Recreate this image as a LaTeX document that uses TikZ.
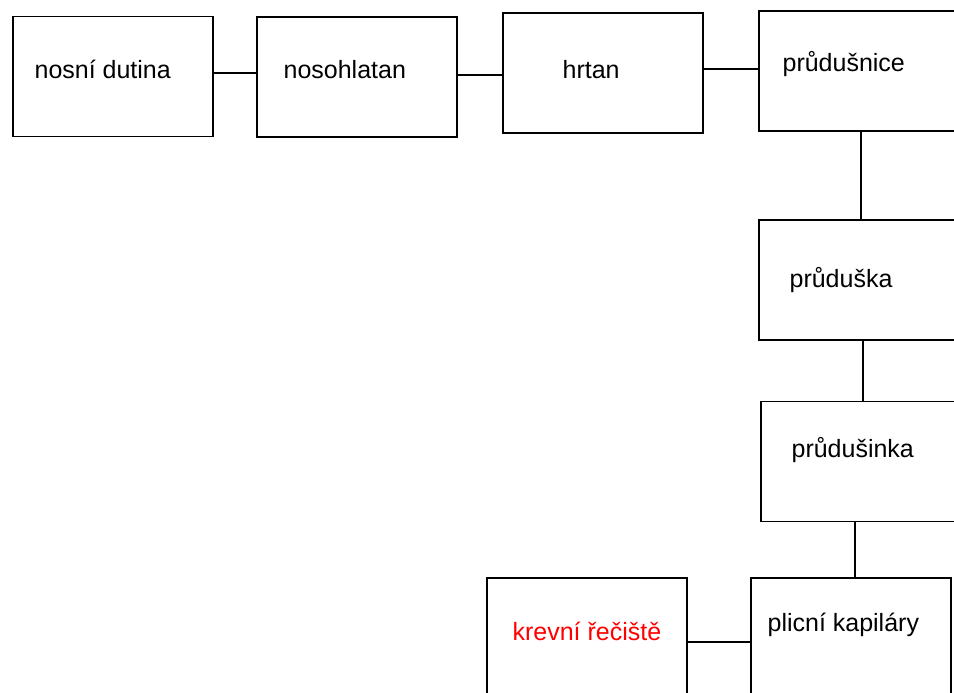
\documentclass[tikz,border=0pt]{standalone}
\usepackage{fontspec}
\setmainfont{Liberation Sans}
\usetikzlibrary{positioning}

\begin{document}
\begin{tikzpicture}[x=1pt,y=-1pt,line width=1.2pt]
% Styles
\tikzstyle{organ box}=[draw,rectangle,minimum width=200pt,minimum height=120pt,inner sep=0pt]
\tikzstyle{organ text}=[anchor=base west,inner sep=0pt,font=\fontsize{25}{29}\selectfont]

\clip (0,0) rectangle (954,693);

% draw the boxes
\node[organ box] (nd) at (113,76.5) {};
\node[organ box] (nh) at (357,77) {};
\node[organ box] (hr) at (603,73) {};
\node[organ box] (pn) at (859,71) {};
\node[organ box] (pk) at (859,280) {};
\node[organ box] (pi) at (861,461.5) {};
\node[organ box] (kap) at (851,638) {};
\node[organ box] (kr) at (587,638) {};

% texts
\node[organ text] (tnd) at (34,78) {nosní dutina};
\node[organ text] (tnh) at (283,78) {nosohlatan};
\node[organ text] (thr) at (562,78) {hrtan};
\node[organ text] (tpn) at (782,72) {průdušnice};
\node[organ text] (tpk) at (789,287) {průduška};
\node[organ text] (tpi) at (791,457) {průdušinka};
\node[organ text] (tkap) at (767,631) {plicní kapiláry};
\node[organ text,text=red] (tkr) at (512,640) {krevní řečiště};

% connect
\draw ([yshift=3.5pt]nd.east) -- ([yshift=3.5pt]nd.east -| nh.west);
\draw ([yshift=2pt]nh.east) -- ([yshift=2pt]nh.east -| hr.west);
\draw ([yshift=4pt]hr.east) -- ([yshift=4pt]hr.east -| pn.west);
\draw ([xshift=2pt]pn.south) -- ([xshift=2pt]pn.south |- pk.north);
\draw ([xshift=4pt]pk.south) -- ([xshift=4pt]pk.south |- pi.north);
\draw ([xshift=4pt]kap.north) -- ([xshift=4pt]kap.north |- pi.south);
\draw ([yshift=-4pt]kr.east) -- ([yshift=-4pt]kr.east -| kap.west);

\end{tikzpicture}
\end{document}
